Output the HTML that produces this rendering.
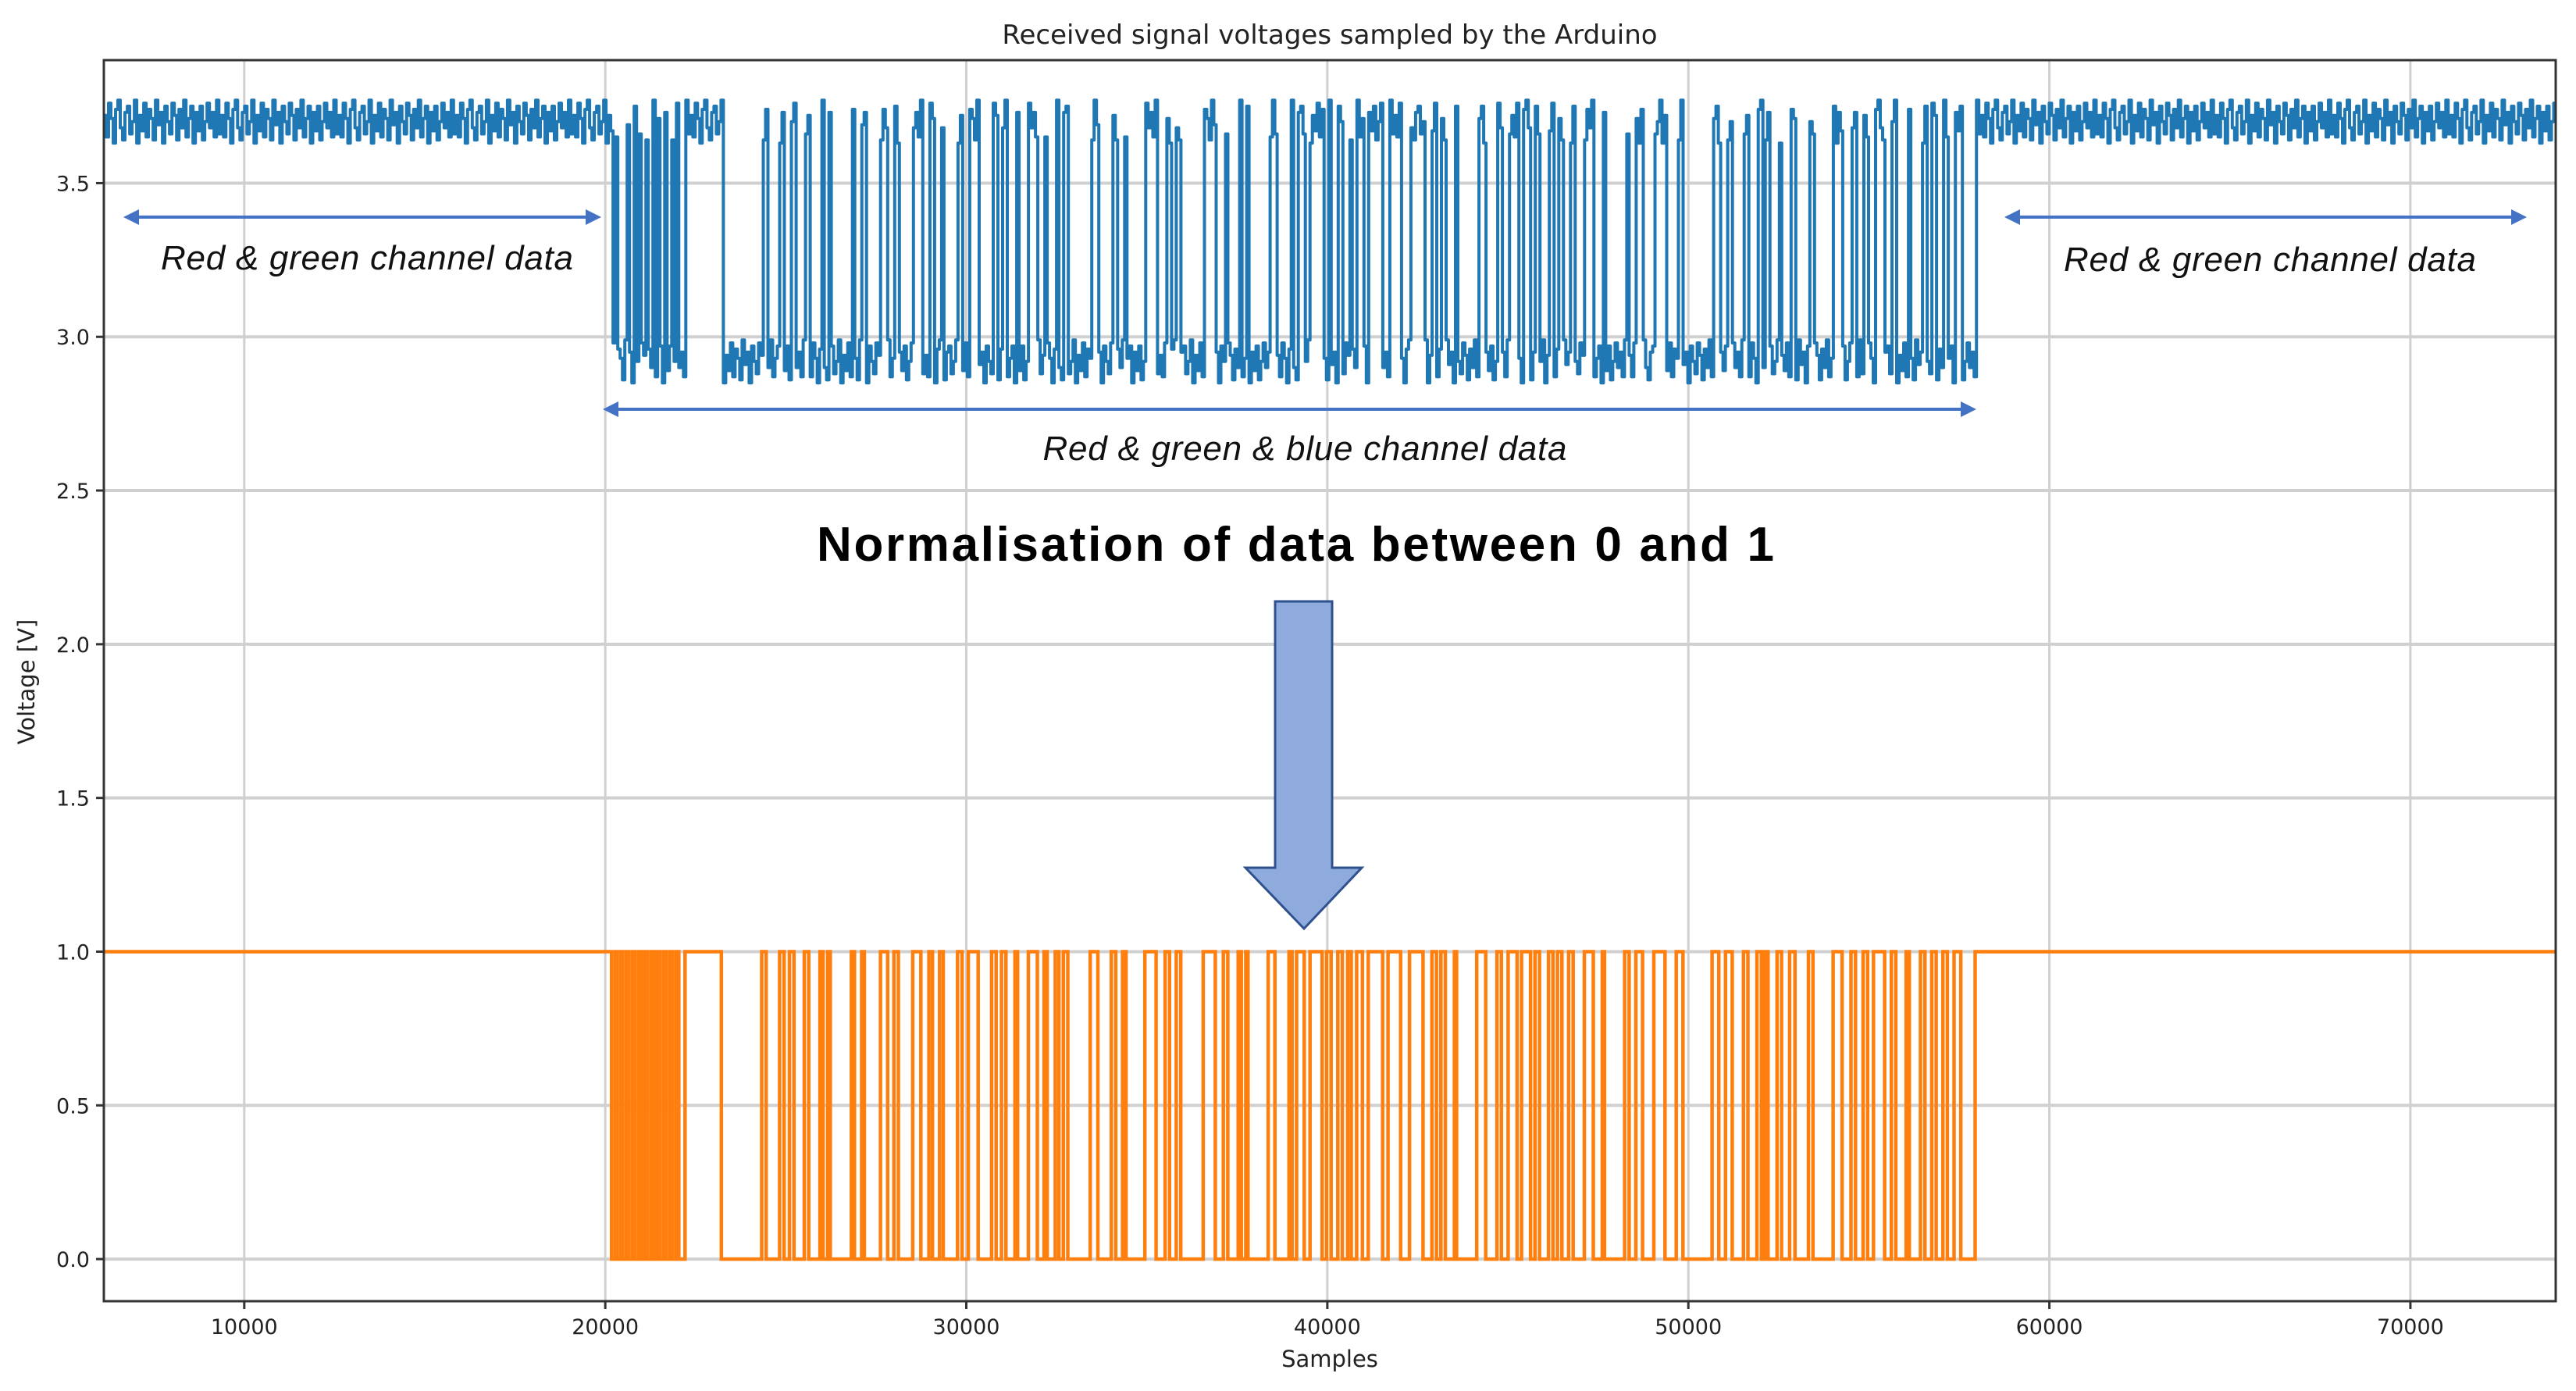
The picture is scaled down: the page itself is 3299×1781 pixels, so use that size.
<!DOCTYPE html>
<html><head><meta charset="utf-8"><style>
html,body{margin:0;padding:0;background:#fff;}
svg{display:block;}
</style></head><body>
<svg id="chart" width="3299" height="1781" xmlns="http://www.w3.org/2000/svg" font-family="'DejaVu Sans','Liberation Sans',sans-serif">
<rect width="3299" height="1781" fill="#fff"/>
<g id="grid"></g>
<g id="series"></g>
<rect x="133" y="77" width="3140" height="1589" fill="none" stroke="#333" stroke-width="3"/>
<g id="ticks"></g>
<text x="1703" y="56" font-size="34" text-anchor="middle" fill="#222">Received signal voltages sampled by the Arduino</text>
<text x="1703" y="1750" font-size="29" text-anchor="middle" fill="#222">Samples</text>
<text transform="translate(44,873) rotate(-90)" font-size="29" text-anchor="middle" fill="#222">Voltage [V]</text>
<g font-family="'Liberation Sans','DejaVu Sans',sans-serif" font-style="italic" font-size="44" fill="#111">
<g stroke="#4472c4" stroke-width="4" fill="#4472c4">
<line x1="170" y1="278" x2="750" y2="278"/><polygon points="158,278 178,268 178,288" stroke="none"/><polygon points="770,278 750,268 750,288" stroke="none"/></g>
<text x="470" y="345" text-anchor="middle" textLength="528">Red &amp; green channel data</text>
<g stroke="#4472c4" stroke-width="4" fill="#4472c4">
<line x1="2580" y1="278" x2="3220" y2="278"/><polygon points="2567,278 2587,268 2587,288" stroke="none"/><polygon points="3236,278 3216,268 3216,288" stroke="none"/></g>
<text x="2907" y="347" text-anchor="middle" textLength="528">Red &amp; green channel data</text>
<g stroke="#4472c4" stroke-width="4" fill="#4472c4">
<line x1="786" y1="524" x2="2516" y2="524"/><polygon points="772,524 792,514 792,534" stroke="none"/><polygon points="2531,524 2511,514 2511,534" stroke="none"/></g>
<text x="1671" y="589" text-anchor="middle" textLength="671">Red &amp; green &amp; blue channel data</text>
</g>
<text x="1659" y="718" font-family="'Liberation Sans','DejaVu Sans',sans-serif" font-weight="bold" font-size="62" text-anchor="middle" textLength="1226" fill="#000">Normalisation of data between 0 and 1</text>
<polygon points="1633,770 1706,770 1706,1111 1744,1111 1670,1189 1595,1111 1633,1111" fill="#8faadc" stroke="#2f528f" stroke-width="3"/>
</svg>
<script>
const xTicks=[10000,20000,30000,40000,50000,60000,70000];
const yTicks=[0.0,0.5,1.0,1.5,2.0,2.5,3.0,3.5];
const lowIntervals=[[20174,20273],[20323,20422],[20472,20571],[20645,20745],[20819,20919],[20993,21092],[21167,21266],[21341,21440],[21515,21614],[21688,21788],[21862,21961],[22036,22210],
[23215,24333],[24457,24829],[24953,25102],[25226,25512],[25636,25947],[26033,26158],[26232,26816],[26903,27101],[27176,27623],[27821,27995],[28119,28516],[28740,28963],[29063,29261],[29361,29758],[29882,30056],[30329,30701],[30826,30975],[31099,31347],[31421,31720],[31968,32154],[32241,32464],[32564,32688],[32812,33433],[33644,34016],[34140,34327],[34426,34947],[35258,35506],[35630,35816],[35941,36561],[36897,37120],[37244,37530],[37617,37741],[37803,38361],[38548,38940],
[39024,39148],[39360,39521],[39856,39980],[40104,40291],[40415,40564],[40663,40812],[40973,41135],[41532,41681],[42029,42277],[42650,42898],[43022,43146],[43270,43519],[43581,44139],[44388,44698],[44822,45008],[45257,45381],[45629,45753],[45877,46126],[46250,46374],[46498,46684],[46809,47119],[47367,47616],[47678,48236],[48360,48547],[48733,49043],[49354,49664],[49850,50657],[50843,51030],[51216,51527],[51651,51899],[52023,52110],[52209,52457],[52582,52805],[52954,53327],[53451,54010],[54258,54506],[54630,54841],[54965,55127],[55437,55623],[55747,56033],[56120,56430],[56554,56741],[56865,57051],[57175,57361],[57547,57945]];
const highLevel=[3.70];
const lowLevel=[2.92];
const noise=[0.02,-0.05,0.06,0.01,-0.07,0.04,0.07,-0.02,-0.06,0.03,0.05,-0.04,0.0,0.07,-0.07,0.02,-0.03,0.06,-0.05,0.04,0.01,-0.06,0.07,-0.01,0.03,-0.07,0.05,0.0,-0.04,0.06,0.02,-0.06,0.04,-0.02,0.07,-0.05,0.01,0.05,-0.07,0.03,-0.03,0.05,-0.06,0.0,0.06,-0.02,0.03,-0.05,0.07,-0.04];
const xMin=6111,xMax=74025,yMin=-0.137,yMax=3.90;
const L=133,R=3273,T=77,B=1666;
const NS="http://www.w3.org/2000/svg";
function sx(v){return L+(v-xMin)/(xMax-xMin)*(R-L);}
function sy(v){return B-(v-yMin)/(yMax-yMin)*(B-T);}
function mk(tag,attrs,parent){const e=document.createElementNS(NS,tag);for(const k in attrs)e.setAttribute(k,attrs[k]);parent.appendChild(e);return e;}
const grid=document.getElementById('grid'),ticks=document.getElementById('ticks'),series=document.getElementById('series');
xTicks.forEach(t=>{
 const g=mk('line',{x1:sx(t),x2:sx(t),y1:T,y2:B,stroke:'#d0d0d0','stroke-width':3},grid);
 
 
 const tk=mk('line',{x1:sx(t),x2:sx(t),y1:B,y2:B+10,stroke:'#333','stroke-width':3},ticks);
 
 
 const tx=mk('text',{x:sx(t),y:B+42,'font-size':27,'text-anchor':'middle',fill:'#222'},ticks);
 tx.textContent=t;
 
 
});
yTicks.forEach(t=>{
 const g=mk('line',{x1:L,x2:R,y1:sy(t),y2:sy(t),stroke:'#d0d0d0','stroke-width':4},grid);
 
 
 const tk=mk('line',{x1:L-10,x2:L,y1:sy(t),y2:sy(t),stroke:'#333','stroke-width':3},ticks);
 
 
 const tx=mk('text',{x:L-18,y:sy(t)+10,'font-size':27,'text-anchor':'end',fill:'#222'},ticks);
 tx.textContent=t.toFixed(1);
 
 
});
let pts=[[xMin,1]];
lowIntervals.forEach(([a,b])=>{pts.push([a,1],[a,0],[b,0],[b,1]);});
pts.push([xMax,1]);
const od=pts.map((p,i)=>(i?'L':'M')+sx(p[0]).toFixed(1)+','+sy(p[1]).toFixed(1)).join('');
const op=mk('path',{d:od,fill:'none',stroke:'#ff7f0e','stroke-width':4.5,'stroke-linejoin':'miter'},series);


function isLow(s){for(const [a,b] of lowIntervals){if(s>=a&&s<b)return true;}return false;}
const step=65;let bd='';let k=0;let prevY=null;
for(let s=xMin;s<=xMax;s+=step){
 const base=isLow(s)?lowLevel[0]:highLevel[0];
 const v=base+noise[k%noise.length];k++;
 const X=sx(s).toFixed(1),Y=sy(v).toFixed(1);
 if(prevY===null)bd+='M'+X+','+Y;else bd+='L'+X+','+prevY+'L'+X+','+Y;
 prevY=Y;
}
bd+='L'+sx(xMax).toFixed(1)+','+prevY;
const bp=mk('path',{d:bd,fill:'none',stroke:'#1f77b4','stroke-width':4,'stroke-linejoin':'round'},series);


</script>
</body></html>
